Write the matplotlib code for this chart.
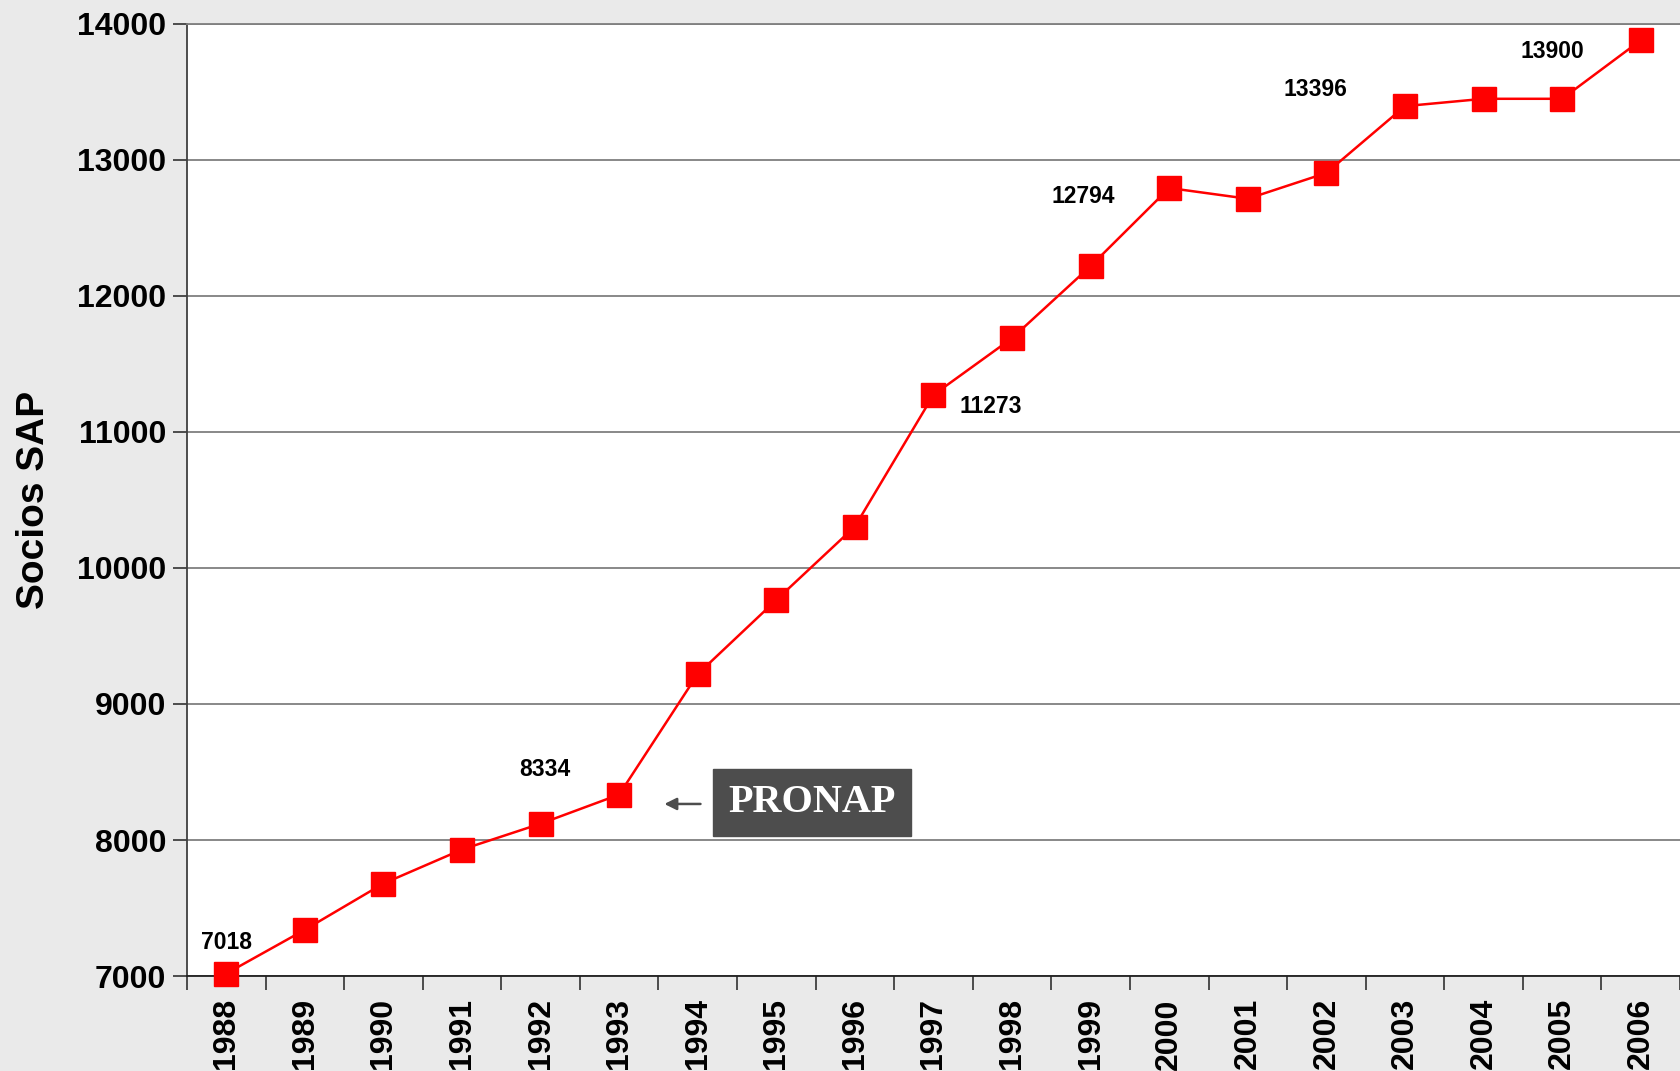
import numpy as np
import matplotlib
matplotlib.use("Agg")
import matplotlib.pyplot as plt

years = [1988, 1989, 1990, 1991, 1992, 1993, 1994, 1995, 1996, 1997,
         1998, 1999, 2000, 2001, 2002, 2003, 2004, 2005, 2006]
socios = [7018, 7340, 7680, 7930, 8120, 8334, 9220, 9765, 10305, 11273,
          11690, 12220, 12794, 12715, 12905, 13396, 13450, 13450, 13880]

# value labels: text, x position (category index), y position
label_text = ["7018", "8334", "11273", "12794", "13396", "13900"]
label_x = [0.0, 4.05, 9.73, 10.91, 13.86, 16.87]
label_y = [7245, 8520, 11185, 12728, 13515, 13801]

plt.rcParams['font.family'] = ['Liberation Sans', 'DejaVu Sans']

fig = plt.figure(figsize=(16.8, 10.71), dpi=100, facecolor="#eaeaea")
ax = fig.add_axes([0.1113, 0.0887, 0.8887, 0.8889])
ax.set_facecolor("white")

x = np.arange(len(years))
ax.plot(x, socios, color="#ff0000", lw=1.8, marker="s", ms=17.5,
        mfc="#ff0000", mec="#ff0000", zorder=3, clip_on=False)

ax.set_xlim(-0.5, len(years) - 0.5)
ax.set_ylim(7000, 14000)
ax.set_yticks(np.arange(7000, 14001, 1000))
ax.yaxis.grid(True, color="#7f7f7f", lw=1.3)
ax.set_axisbelow(True)

ax.set_xticks(x)
ax.set_xticklabels([str(y) for y in years], rotation=90, fontsize=23,
                   fontweight="bold")
ax.set_xticks(np.arange(-0.5, len(years)), minor=True)
ax.tick_params(axis="x", which="major", length=0, pad=16)
ax.tick_params(axis="x", which="minor", length=10, width=1.3, color="#404040")
ax.tick_params(axis="y", length=10, width=1.3, color="#404040", pad=5)
for lab in ax.get_yticklabels():
    lab.set_fontsize(23)
    lab.set_fontweight("bold")

ax.spines["right"].set_visible(False)
ax.spines["top"].set_color("#7f7f7f")
ax.spines["top"].set_linewidth(1.3)
ax.spines["left"].set_color("#404040")
ax.spines["left"].set_linewidth(1.3)
ax.spines["bottom"].set_color("#202020")
ax.spines["bottom"].set_linewidth(1.3)

ax.set_ylabel("Socios SAP", fontsize=28, fontweight="bold", labelpad=18)

for t, lx, ly in zip(label_text, label_x, label_y):
    ax.text(lx, ly, t, ha="center", va="center", fontsize=16.5,
            fontweight="bold")

# PRONAP annotation
ax.annotate("", xy=(5.54, 8265), xytext=(6.07, 8265),
            arrowprops=dict(arrowstyle="-|>", color="#4d4d4d", lw=1.8,
                            mutation_scale=18))
ax.text(7.46, 8275, "PRONAP", ha="center", va="center", fontsize=29,
        fontweight="bold", color="white", family=["Liberation Serif"],
        bbox=dict(boxstyle="square,pad=0.38", fc="#4d4d4d", ec="#4d4d4d"))

fig.savefig("out.png", dpi=100, facecolor=fig.get_facecolor())
